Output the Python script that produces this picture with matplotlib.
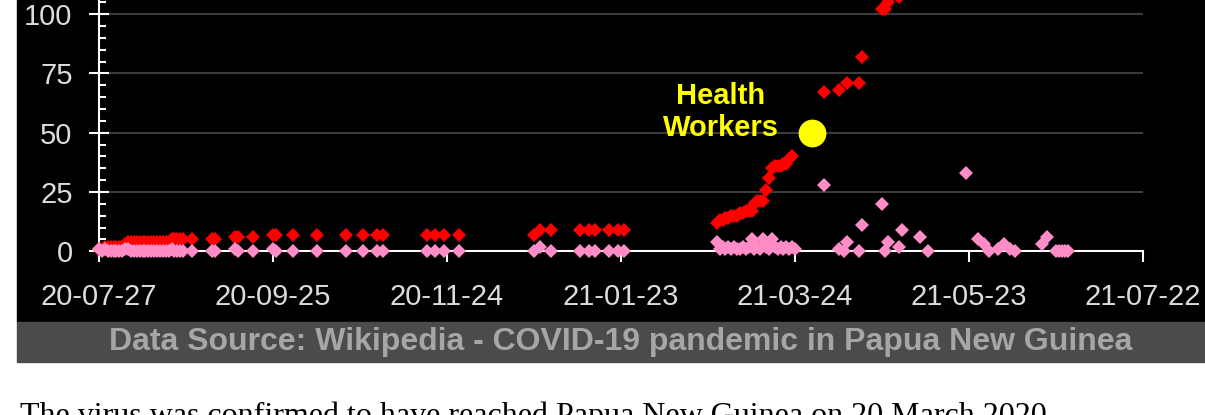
import matplotlib
matplotlib.use("Agg")
import matplotlib.pyplot as plt
import matplotlib.dates as mdates
import matplotlib.ticker as mticker
import pandas as pd
from matplotlib.patches import Rectangle

# red diamonds: running total
CUM_DATES = [
    "2020-07-27", "2020-07-28", "2020-07-29", "2020-07-30", "2020-07-31",
    "2020-08-01", "2020-08-02", "2020-08-03", "2020-08-04", "2020-08-05",
    "2020-08-06", "2020-08-07", "2020-08-08", "2020-08-09", "2020-08-10",
    "2020-08-11", "2020-08-12", "2020-08-13", "2020-08-14", "2020-08-15",
    "2020-08-16", "2020-08-17", "2020-08-18", "2020-08-19", "2020-08-20",
    "2020-08-21", "2020-08-22", "2020-08-23", "2020-08-24", "2020-08-25",
    "2020-08-28", "2020-09-04", "2020-09-05", "2020-09-12", "2020-09-13",
    "2020-09-18", "2020-09-25", "2020-09-26", "2020-10-02", "2020-10-10",
    "2020-10-20", "2020-10-26", "2020-10-31", "2020-11-02", "2020-11-17",
    "2020-11-20", "2020-11-23", "2020-11-28", "2020-12-24", "2020-12-26",
    "2020-12-30", "2021-01-09", "2021-01-12", "2021-01-14", "2021-01-19",
    "2021-01-22", "2021-01-24",
    "2021-02-25", "2021-02-26", "2021-02-27", "2021-02-28", "2021-03-01",
    "2021-03-02", "2021-03-03", "2021-03-04", "2021-03-05", "2021-03-06",
    "2021-03-07", "2021-03-08", "2021-03-09", "2021-03-10", "2021-03-11",
    "2021-03-12", "2021-03-13", "2021-03-14", "2021-03-15", "2021-03-16",
    "2021-03-17", "2021-03-18", "2021-03-19", "2021-03-20", "2021-03-21",
    "2021-03-22", "2021-03-23",
    "2021-04-03", "2021-04-08", "2021-04-11", "2021-04-15", "2021-04-16",
    "2021-04-23", "2021-04-24", "2021-04-25", "2021-04-29",
]
CUM_VALUES = [
    1, 1, 2, 2, 2, 2, 2, 2, 2, 3,
    4, 4, 4, 4, 4, 4, 4, 4, 4, 4,
    4, 4, 4, 4, 4, 5, 5, 5, 5, 5,
    5, 5, 5, 6, 6, 6, 7, 7, 7, 7,
    7, 7, 7, 7, 7, 7, 7, 7, 7, 9,
    9, 9, 9, 9, 9, 9, 9,
    12, 13, 13, 14, 14, 15, 15, 15, 16, 16,
    17, 17, 17, 20, 21, 21, 21, 26, 31, 35,
    36, 36, 36, 37, 37, 39, 40,
    67, 68, 71, 71, 82, 102, 102, 105, 107,
]

# pink diamonds: daily count
DAILY_DATES = [
    "2020-07-27", "2020-07-28", "2020-07-29", "2020-07-30", "2020-07-31",
    "2020-08-01", "2020-08-02", "2020-08-03", "2020-08-04", "2020-08-05",
    "2020-08-06", "2020-08-07", "2020-08-08", "2020-08-09", "2020-08-10",
    "2020-08-11", "2020-08-12", "2020-08-13", "2020-08-14", "2020-08-15",
    "2020-08-16", "2020-08-17", "2020-08-18", "2020-08-19", "2020-08-20",
    "2020-08-21", "2020-08-22", "2020-08-23", "2020-08-24", "2020-08-25",
    "2020-08-28", "2020-09-04", "2020-09-05", "2020-09-12", "2020-09-13",
    "2020-09-18", "2020-09-25", "2020-09-26", "2020-10-02", "2020-10-10",
    "2020-10-20", "2020-10-26", "2020-10-31", "2020-11-02", "2020-11-17",
    "2020-11-20", "2020-11-23", "2020-11-28", "2020-12-24", "2020-12-26",
    "2020-12-30", "2021-01-09", "2021-01-12", "2021-01-14", "2021-01-19",
    "2021-01-22", "2021-01-24",
    "2021-02-25", "2021-02-26", "2021-02-27", "2021-02-28", "2021-03-01",
    "2021-03-02", "2021-03-03", "2021-03-04", "2021-03-05", "2021-03-06",
    "2021-03-07", "2021-03-08", "2021-03-09", "2021-03-10", "2021-03-11",
    "2021-03-12", "2021-03-13", "2021-03-14", "2021-03-15", "2021-03-16",
    "2021-03-17", "2021-03-18", "2021-03-19", "2021-03-20", "2021-03-21",
    "2021-03-22", "2021-03-23", "2021-03-24",
    "2021-04-03", "2021-04-08", "2021-04-10", "2021-04-11", "2021-04-15",
    "2021-04-16", "2021-04-23", "2021-04-24", "2021-04-25", "2021-04-29",
    "2021-04-30", "2021-05-06", "2021-05-09", "2021-05-22", "2021-05-26",
    "2021-05-28", "2021-05-30", "2021-06-02", "2021-06-04", "2021-06-06",
    "2021-06-08", "2021-06-17", "2021-06-19", "2021-06-22", "2021-06-23",
    "2021-06-24", "2021-06-25", "2021-06-26",
]
DAILY_VALUES = [
    1, 0, 1, 0, 0, 0, 0, 0, 0, 1,
    1, 0, 0, 0, 0, 0, 0, 0, 0, 0,
    0, 0, 0, 0, 0, 1, 0, 0, 0, 0,
    0, 0, 0, 1, 0, 0, 1, 0, 0, 0,
    0, 0, 0, 0, 0, 0, 0, 0, 0, 2,
    0, 0, 0, 0, 0, 0, 0,
    4, 1, 2, 1, 2, 1, 2, 1, 1, 2,
    1, 2, 5, 1, 2, 1, 5, 2, 1, 5,
    2, 1, 2, 1, 2, 1, 2, 1,
    28, 1, 0, 4, 0, 11, 20, 0, 4, 2,
    9, 6, 0, 33, 5, 3, 0, 1, 3, 1,
    0, 3, 6, 0, 0, 0, 0, 0,
]

HW_DATE = "2021-03-30"
HW_VALUE = 50

TICK_DATES = ["2020-07-27", "2020-09-25", "2020-11-24", "2021-01-23",
              "2021-03-24", "2021-05-23", "2021-07-22"]
TICK_LABELS = ["20-07-27", "20-09-25", "20-11-24", "21-01-23",
               "21-03-24", "21-05-23", "21-07-22"]
Y_TICKS = [0, 25, 50, 75, 100]

SOURCE_TEXT = "Data Source: Wikipedia - COVID-19 pandemic in Papua New Guinea"
BODY_TEXT = "The virus was confirmed to have reached Papua New Guinea on 20 March 2020."

W, H = 1205, 415
plt.rcParams["font.family"] = ["Liberation Sans", "DejaVu Sans"]

fig = plt.figure(figsize=(W / 100, H / 100), dpi=100, facecolor="white")

# black chart panel and grey source strip
fig.add_artist(Rectangle((17 / W, 93 / H), 1 - 17 / W, 1 - 93 / H,
                         transform=fig.transFigure, color="black", zorder=-2))
fig.add_artist(Rectangle((17 / W, 53 / H), 1 - 17 / W, 40 / H,
                         transform=fig.transFigure, color="#4b4b4b", zorder=-2))

ax = fig.add_axes([99 / W, (H - 251.3) / H, 1044 / W, 251.3 / H])
ax.set_facecolor("black")
ax.set_xlim(pd.Timestamp(TICK_DATES[0]), pd.Timestamp(TICK_DATES[-1]))
ax.set_ylim(0, 251.3 / 2.372)

ax.plot(pd.to_datetime(CUM_DATES), CUM_VALUES, ls="none", marker="D", ms=7,
        mew=0, color="#ff0000", clip_on=False, zorder=3)
ax.plot(pd.to_datetime(DAILY_DATES), DAILY_VALUES, ls="none", marker="D", ms=7,
        mew=0, color="#ff8cc6", clip_on=False, zorder=4)

hw_x = mdates.date2num(pd.Timestamp(HW_DATE))
ax.plot([hw_x], [HW_VALUE], ls="none", marker="o", ms=20, mew=0,
        color="#ffff00", zorder=5)
ax.annotate("Health\nWorkers", xy=(hw_x, HW_VALUE), xytext=(-66, 15),
            textcoords="offset points", ha="center", va="center",
            color="#ffff00", fontsize=21, fontweight="bold", linespacing=1.2)

# axes styling
for side in ("top", "right"):
    ax.spines[side].set_visible(False)
for side in ("left", "bottom"):
    ax.spines[side].set_color("white")
    ax.spines[side].set_linewidth(1.5)

ax.set_yticks(Y_TICKS)
ax.yaxis.set_minor_locator(mticker.MultipleLocator(5))
ax.tick_params(axis="y", which="major", direction="inout", length=14, width=1.5,
               color="white", labelcolor="#dcdcdc", labelsize=21, pad=12)
ax.tick_params(axis="y", which="minor", direction="in", length=5, width=1.5,
               color="white")

ax.set_xticks(pd.to_datetime(TICK_DATES))
ax.set_xticklabels(TICK_LABELS)
ax.xaxis.set_minor_locator(mticker.NullLocator())
ax.tick_params(axis="x", which="major", direction="out", length=8, width=1.5,
               color="white", labelcolor="#dcdcdc", labelsize=21, pad=15)

ax.grid(axis="y", which="major", color="#3c3c3c", linewidth=1.5)
ax.set_axisbelow(True)

fig.text(621 / W, (H - 342) / H, SOURCE_TEXT, ha="center", va="center",
         color="#a6a6a6", fontsize=23, fontweight="bold")
fig.text(20 / W, -9 / H, BODY_TEXT, ha="left", va="baseline", fontsize=23,
         family=["Liberation Serif", "DejaVu Serif"], color="black")

fig.savefig("out.png", dpi=100, facecolor=fig.get_facecolor())
